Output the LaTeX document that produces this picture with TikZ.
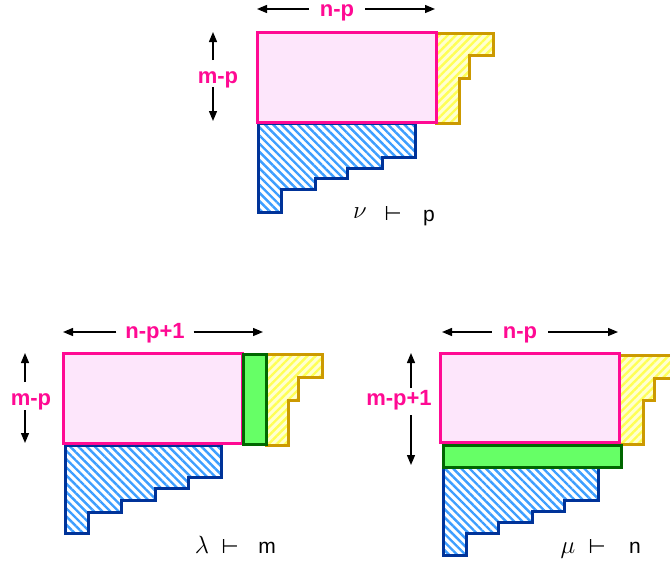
\documentclass[tikz,border=0pt]{standalone}
\usepackage{fontspec}
\setmainfont{Liberation Sans}
\newfontfamily\symfont{DejaVu Sans}
\usetikzlibrary{patterns.meta,arrows.meta,calc}
\definecolor{pinkline}{HTML}{FF0A93}
\definecolor{pinkfill}{HTML}{FDE6FB}
\definecolor{blueline}{HTML}{003399}
\definecolor{bluehatch}{HTML}{3D9EFF}
\definecolor{goldline}{HTML}{CC9900}
\definecolor{yellowhatch}{HTML}{FFFF55}
\definecolor{yellowfill}{HTML}{FFFFD0}
\definecolor{greenfill}{HTML}{66FF66}
\definecolor{greenline}{HTML}{006600}
\tikzset{
  pinkbox/.style={draw=pinkline, fill=pinkfill, line width=3pt},
  greenbox/.style={draw=greenline, fill=greenfill, line width=3pt},
  blueshape/.style={draw=blueline, line width=3pt, line join=miter,
    preaction={fill=white},
    pattern={Lines[angle=-45,distance=5.8pt,line width=2.4pt]}, pattern color=bluehatch},
  yellowshape/.style={draw=goldline, line width=3pt, line join=miter,
    preaction={fill=yellowfill},
    pattern={Lines[angle=45,distance=5.8pt,line width=2.4pt]}, pattern color=yellowhatch},
  dimlabel/.style={text=pinkline, font=\fontsize{22}{22}\selectfont\bfseries, inner sep=0pt, anchor=base},
  dimarrow/.style={-{Triangle[length=10pt,width=8pt]}, line width=1.3pt},
  partlabel/.style={font=\fontsize{21}{21}\selectfont, inner sep=0pt, anchor=base},
  greeklabel/.style={font=\fontsize{24}{24}\selectfont, inner sep=0pt, anchor=base},
  vdlabel/.style={font=\fontsize{20}{20}\selectfont\symfont, inner sep=0pt, anchor=base},
}
\begin{document}
\begin{tikzpicture}[x=1pt,y=-1pt]
\useasboundingbox (0,0) rectangle (670,565);
\clip (0,0) rectangle (670,565);

% ---------- top diagram ----------
\draw[yellowshape] (436,33) -- (493,33) -- (493,55) -- (469,55) -- (469,78) -- (459,78) -- (459,123) -- (436,123) -- cycle;
\draw[blueshape] (258,123) -- (415,123) -- (415,157) -- (382,157) -- (382,168) -- (347,168) -- (347,178) -- (315,178) -- (315,189) -- (281,189) -- (281,212) -- (258,212) -- cycle;
\draw[pinkbox] (257,32) rectangle (436,122);

\node[dimlabel, outer xsep=11pt, outer ysep=0pt] (tnp) at (337,16) {n-p};
\coordinate (tnpL) at (257,9);
\coordinate (tnpR) at (435,9);
\draw[dimarrow] (tnp.west |- tnpL) -- (tnpL);
\draw[dimarrow] (tnp.east |- tnpR) -- (tnpR);
\node[dimlabel] (tmp) at (218,83) {m-p};
\coordinate (tmpT) at (213,32);
\coordinate (tmpB) at (213,121);
\draw[dimarrow] ($(tmp.base -| tmpT)+(0,-23)$) -- (tmpT);
\draw[dimarrow] ($(tmp.base -| tmpB)+(0,4)$) -- (tmpB);

\node[greeklabel] (tnu) at (360,218) {$\nu$};
\node[vdlabel] (tvd) at (393,220) {⊢};
\node[partlabel] (tp) at (429,221) {p};

% ---------- bottom left ----------
\draw[yellowshape] (266,354) -- (322,354) -- (322,377) -- (298,377) -- (298,400) -- (288,400) -- (288,445) -- (266,445) -- cycle;
\draw[blueshape] (65,445) -- (221,445) -- (221,477) -- (188,477) -- (188,488) -- (155,488) -- (155,500) -- (121,500) -- (121,512) -- (88,512) -- (88,533) -- (65,533) -- cycle;
\draw[pinkbox] (63,353) rectangle (242,443);
\draw[greenbox] (243,354) rectangle (266,444);

\node[dimlabel, outer xsep=9pt, outer ysep=0pt] (lnp) at (155,338.5) {n-p+1};
\coordinate (lnpL) at (63,332);
\coordinate (lnpR) at (263,332);
\draw[dimarrow] (lnp.west |- lnpL) -- (lnpL);
\draw[dimarrow] (lnp.east |- lnpR) -- (lnpR);
\node[dimlabel] (lmp) at (31,405) {m-p};
\coordinate (lmpT) at (25,353);
\coordinate (lmpB) at (25,443);
\draw[dimarrow] ($(lmp.base -| lmpT)+(0,-23)$) -- (lmpT);
\draw[dimarrow] ($(lmp.base -| lmpB)+(0,5)$) -- (lmpB);

\node[greeklabel] (llam) at (202,553) {$\lambda$};
\node[vdlabel] (lvd) at (230,553) {⊢};
\node[partlabel] (lm) at (267,553) {m};

% ---------- bottom right ----------
\draw[yellowshape] (619,355) -- (680,355) -- (680,378) -- (654,378) -- (654,400) -- (643,400) -- (643,444) -- (619,444) -- cycle;
\draw[blueshape] (443,467) -- (598,467) -- (598,500) -- (564,500) -- (564,511) -- (532,511) -- (532,522) -- (498,522) -- (498,533) -- (466,533) -- (466,555) -- (443,555) -- cycle;
\draw[pinkbox] (440,353) rectangle (619,442);
\draw[greenbox] (443,445) rectangle (621,467);

\node[dimlabel, outer xsep=11pt, outer ysep=0pt] (rnp) at (520,338.5) {n-p};
\coordinate (rnpL) at (442,332);
\coordinate (rnpR) at (618,332);
\draw[dimarrow] (rnp.west |- rnpL) -- (rnpL);
\draw[dimarrow] (rnp.east |- rnpR) -- (rnpR);
\node[dimlabel] (rmp) at (399,405) {m-p+1};
\coordinate (rmpT) at (411,353);
\coordinate (rmpB) at (411,465);
\draw[dimarrow] ($(rmp.base -| rmpT)+(0,-17)$) -- (rmpT);
\draw[dimarrow] ($(rmp.base -| rmpB)+(0,10)$) -- (rmpB);

\node[greeklabel] (rmu) at (568,553) {$\mu$};
\node[vdlabel] (rvd) at (597,553) {⊢};
\node[partlabel] (rn) at (635,553) {n};
\end{tikzpicture}
\end{document}
